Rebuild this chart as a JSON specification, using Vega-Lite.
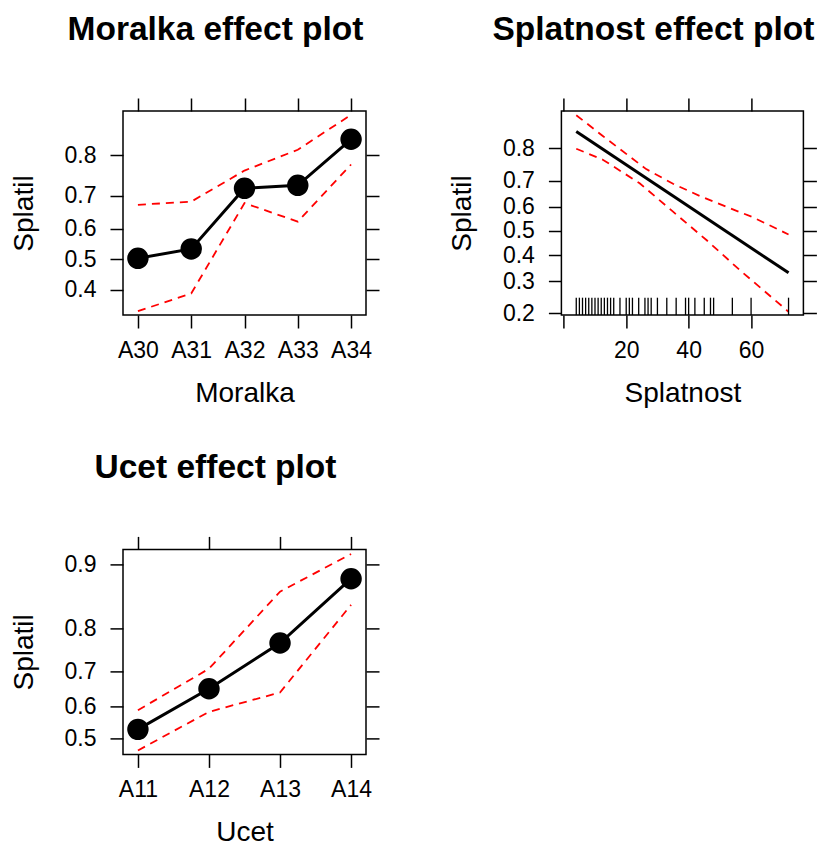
{
  "$schema": "https://vega.github.io/schema/vega-lite/v6.json",
  "padding": {"left": 9, "top": 12, "right": 0, "bottom": 0},
  "background": "white",
  "config": {
    "font": "Liberation Sans",
    "view": {"stroke": "black", "strokeWidth": 1.5},
    "axis": {
      "domain": false, "grid": false,
      "tickColor": "black", "tickWidth": 1.5, "tickSize": 13,
      "labelColor": "black", "labelFontSize": 23, "labelFont": "Liberation Sans",
      "labelFlush": false, "labelOverlap": false,
      "titleColor": "black", "titleFontSize": 28, "titleFontWeight": "normal", "titleFont": "Liberation Sans"
    },
    "axisX": {"labelPadding": 11, "titlePadding": 17, "labelAngle": 0},
    "axisY": {"labelPadding": 14, "titlePadding": 26},
    "title": {"fontSize": 33.5, "fontWeight": "bold", "color": "black", "font": "Liberation Sans", "anchor": "middle", "frame": "group", "offset": 50, "dx": -29}
  },
  "datasets": {
    "moralka": [
      {"Moralka": "A30", "fit": 0.503, "lower": 0.334, "upper": 0.673},
      {"Moralka": "A31", "fit": 0.534, "lower": 0.388, "upper": 0.682},
      {"Moralka": "A32", "fit": 0.719, "lower": 0.678, "upper": 0.764},
      {"Moralka": "A33", "fit": 0.727, "lower": 0.622, "upper": 0.810},
      {"Moralka": "A34", "fit": 0.830, "lower": 0.778, "upper": 0.872}
    ],
    "ucet": [
      {"Ucet": "A11", "fit": 0.5275, "lower": 0.461, "upper": 0.587},
      {"Ucet": "A12", "fit": 0.651, "lower": 0.582, "upper": 0.706},
      {"Ucet": "A13", "fit": 0.768, "lower": 0.640, "upper": 0.864},
      {"Ucet": "A14", "fit": 0.882, "lower": 0.843, "upper": 0.911}
    ],
    "splat_fit": [
      {"Splatnost": 4, "p": 0.841},
      {"Splatnost": 72, "p": 0.331}
    ],
    "splat_upper": [
      {"Splatnost": 4, "p": 0.874},
      {"Splatnost": 12.5, "p": 0.830},
      {"Splatnost": 26.4, "p": 0.738},
      {"Splatnost": 35.0, "p": 0.688},
      {"Splatnost": 43.5, "p": 0.643},
      {"Splatnost": 52.1, "p": 0.600},
      {"Splatnost": 60.6, "p": 0.557},
      {"Splatnost": 72, "p": 0.485}
    ],
    "splat_lower": [
      {"Splatnost": 4, "p": 0.799},
      {"Splatnost": 12.5, "p": 0.767},
      {"Splatnost": 24.3, "p": 0.690},
      {"Splatnost": 35.0, "p": 0.580},
      {"Splatnost": 45.7, "p": 0.462},
      {"Splatnost": 56.4, "p": 0.341},
      {"Splatnost": 72, "p": 0.205}
    ],
    "splat_rug": [
      {"Splatnost": 4}, {"Splatnost": 5}, {"Splatnost": 6}, {"Splatnost": 7}, {"Splatnost": 8},
      {"Splatnost": 9}, {"Splatnost": 10}, {"Splatnost": 11}, {"Splatnost": 12}, {"Splatnost": 13},
      {"Splatnost": 14}, {"Splatnost": 15}, {"Splatnost": 16}, {"Splatnost": 18}, {"Splatnost": 20},
      {"Splatnost": 21}, {"Splatnost": 22}, {"Splatnost": 24}, {"Splatnost": 26}, {"Splatnost": 27},
      {"Splatnost": 28}, {"Splatnost": 30}, {"Splatnost": 33}, {"Splatnost": 36}, {"Splatnost": 39},
      {"Splatnost": 40}, {"Splatnost": 42}, {"Splatnost": 45}, {"Splatnost": 47}, {"Splatnost": 48},
      {"Splatnost": 54}, {"Splatnost": 60}, {"Splatnost": 72}
    ]
  },
  "columns": 2,
  "bounds": "flush",
  "spacing": {"column": 195.4, "row": 234.4},
  "concat": [
    {
      "title": {"text": "Moralka effect plot"},
      "width": 243, "height": 204,
      "data": {"name": "moralka"},
      "resolve": {"axis": {"x": "independent", "y": "independent"}},
      "layer": [
        {
          "mark": {"type": "line", "color": "#FF0000", "strokeDash": [8, 6], "strokeWidth": 1.8},
          "encoding": {
            "x": {"field": "Moralka", "type": "ordinal", "scale": {"type": "point", "padding": 0.28}, "axis": {"orient": "bottom", "title": "Moralka"}},
            "y": {"field": "lower", "type": "quantitative",
                  "scale": {"domain": [0.3226, 0.35, 0.4, 0.45, 0.5, 0.55, 0.6, 0.65, 0.7, 0.75, 0.8, 0.85, 0.865, 0.8777], "range": [204, 194.7, 178.7, 163.3, 148.2, 133.1, 117.7, 101.7, 84.5, 65.6, 44.0, 17.8, 8.4, 0], "zero": false, "nice": false},
                  "axis": {"orient": "left", "title": "Splatil", "values": [0.4, 0.5, 0.6, 0.7, 0.8], "format": ".1f"}}
          }
        },
        {
          "mark": {"type": "line", "color": "#FF0000", "strokeDash": [8, 6], "strokeWidth": 1.8},
          "encoding": {
            "x": {"field": "Moralka", "type": "ordinal", "axis": {"orient": "top", "labels": false, "title": null}},
            "y": {"field": "upper", "type": "quantitative", "axis": {"orient": "right", "labels": false, "title": null, "values": [0.4, 0.5, 0.6, 0.7, 0.8]}}
          }
        },
        {
          "mark": {"type": "line", "color": "black", "strokeWidth": 3},
          "encoding": {
            "x": {"field": "Moralka", "type": "ordinal", "axis": null},
            "y": {"field": "fit", "type": "quantitative", "axis": null}
          }
        },
        {
          "mark": {"type": "circle", "color": "black", "opacity": 1, "size": 460},
          "encoding": {
            "x": {"field": "Moralka", "type": "ordinal", "axis": null},
            "y": {"field": "fit", "type": "quantitative", "axis": null}
          }
        }
      ]
    },
    {
      "title": {"text": "Splatnost effect plot"},
      "width": 242, "height": 204,
      "resolve": {"axis": {"x": "independent", "y": "independent"}},
      "layer": [
        {
          "data": {"name": "splat_upper"},
          "mark": {"type": "line", "color": "#FF0000", "strokeDash": [8, 6], "strokeWidth": 1.8},
          "encoding": {
            "x": {"field": "Splatnost", "type": "quantitative", "scale": {"domain": [-0.76, 76.76], "zero": false, "nice": false},
                  "axis": {"orient": "bottom", "title": "Splatnost", "values": [0, 20, 40, 60], "labelExpr": "datum.value == 0 ? '' : datum.label"}},
            "y": {"field": "p", "type": "quantitative",
                  "scale": {"domain": [0.196, 0.2, 0.225, 0.25, 0.3, 0.35, 0.4, 0.45, 0.5, 0.55, 0.6, 0.65, 0.7, 0.75, 0.8, 0.85, 0.882], "range": [204, 202.4, 194.0, 185.3, 170.3, 156.7, 144.0, 131.9, 119.9, 108.0, 95.8, 83.1, 69.5, 54.5, 37.4, 16.7, 0], "zero": false, "nice": false},
                  "axis": {"orient": "left", "title": "Splatil", "values": [0.2, 0.3, 0.4, 0.5, 0.6, 0.7, 0.8], "format": ".1f"}}
          }
        },
        {
          "data": {"name": "splat_lower"},
          "mark": {"type": "line", "color": "#FF0000", "strokeDash": [8, 6], "strokeWidth": 1.8},
          "encoding": {
            "x": {"field": "Splatnost", "type": "quantitative", "axis": {"orient": "top", "labels": false, "title": null, "values": [0, 20, 40, 60]}},
            "y": {"field": "p", "type": "quantitative", "axis": {"orient": "right", "labels": false, "title": null, "values": [0.2, 0.3, 0.4, 0.5, 0.6, 0.7, 0.8]}}
          }
        },
        {
          "data": {"name": "splat_fit"},
          "mark": {"type": "line", "color": "black", "strokeWidth": 3},
          "encoding": {
            "x": {"field": "Splatnost", "type": "quantitative", "axis": null},
            "y": {"field": "p", "type": "quantitative", "axis": null}
          }
        },
        {
          "data": {"name": "splat_rug"},
          "mark": {"type": "rule", "color": "black", "strokeWidth": 1.3},
          "encoding": {
            "x": {"field": "Splatnost", "type": "quantitative", "axis": null},
            "y": {"datum": 0.196, "axis": null},
            "y2": {"datum": 0.246}
          }
        }
      ]
    },
    {
      "title": {"text": "Ucet effect plot"},
      "width": 243, "height": 205,
      "data": {"name": "ucet"},
      "resolve": {"axis": {"x": "independent", "y": "independent"}},
      "layer": [
        {
          "mark": {"type": "line", "color": "#FF0000", "strokeDash": [8, 6], "strokeWidth": 1.8},
          "encoding": {
            "x": {"field": "Ucet", "type": "ordinal", "scale": {"type": "point", "padding": 0.21}, "axis": {"orient": "bottom", "title": "Ucet"}},
            "y": {"field": "lower", "type": "quantitative",
                  "scale": {"domain": [0.4485, 0.5, 0.55, 0.6, 0.65, 0.7, 0.75, 0.8, 0.85, 0.875, 0.9, 0.9158], "range": [205, 188.7, 172.8, 156.6, 139.7, 121.7, 101.8, 79.1, 51.6, 34.9, 15.0, 0], "zero": false, "nice": false},
                  "axis": {"orient": "left", "title": "Splatil", "values": [0.5, 0.6, 0.7, 0.8, 0.9], "format": ".1f"}}
          }
        },
        {
          "mark": {"type": "line", "color": "#FF0000", "strokeDash": [8, 6], "strokeWidth": 1.8},
          "encoding": {
            "x": {"field": "Ucet", "type": "ordinal", "axis": {"orient": "top", "labels": false, "title": null}},
            "y": {"field": "upper", "type": "quantitative", "axis": {"orient": "right", "labels": false, "title": null, "values": [0.5, 0.6, 0.7, 0.8, 0.9]}}
          }
        },
        {
          "mark": {"type": "line", "color": "black", "strokeWidth": 3},
          "encoding": {
            "x": {"field": "Ucet", "type": "ordinal", "axis": null},
            "y": {"field": "fit", "type": "quantitative", "axis": null}
          }
        },
        {
          "mark": {"type": "circle", "color": "black", "opacity": 1, "size": 460},
          "encoding": {
            "x": {"field": "Ucet", "type": "ordinal", "axis": null},
            "y": {"field": "fit", "type": "quantitative", "axis": null}
          }
        }
      ]
    }
  ]
}
